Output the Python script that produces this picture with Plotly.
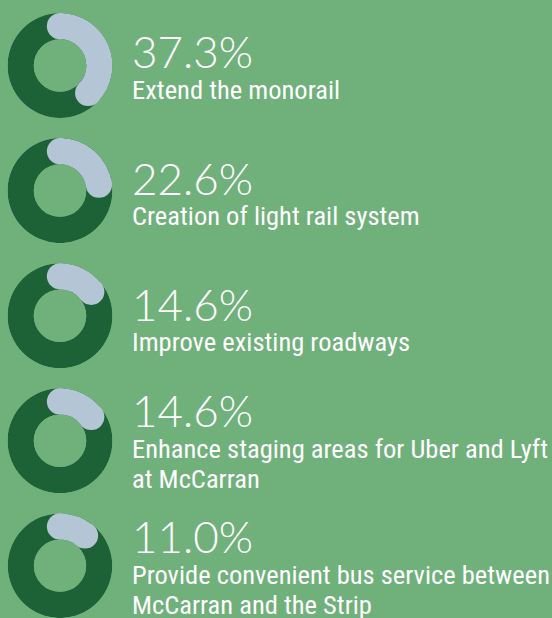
import plotly.graph_objects as go

# Survey shares for each transport improvement option
options = [
    "Extend the monorail",
    "Creation of light rail system",
    "Improve existing roadways",
    "Enhance staging areas for Uber and Lyft<br>at McCarran",
    "Provide convenient bus service between<br>McCarran and the Strip",
]
shares = [37.3, 22.6, 14.6, 14.6, 11.0]

W, H = 552, 618
BG = "#70b07b"
RING = "#1d6236"
ARC = "#b4c6d6"

CX = 60          # donut centre x (px)
CY0 = 65.5       # first donut centre y (px)
STEP = 125.1     # vertical spacing between donuts (px)
R = 52.5         # outer radius (px)
HOLE = 0.5
TEXT_X = 130
BASE0 = 68.3     # baseline of the first percentage (px)
TEXT_STEP = 126.3
PCT_SIZE = 44
LBL_SIZE = 26.5
LINE_GAP = 30
PCT_FONT = "Lato"
LBL_FONT = "Roboto Condensed, Liberation Sans Narrow, DejaVu Sans Condensed, sans-serif"
# distance from glyph-box centre down to the baseline, in em
PCT_MID = 0.387
LBL_MID = 0.341


def clamp(t):
    return min(1.0, max(0.0, t))


def mid_from_baseline(baseline, size, k):
    # annotation boxes are centred on the glyph box, not the baseline
    return baseline - k * size


fig = go.Figure()
annotations = []

for i, (label, v) in enumerate(zip(options, shares)):
    cy = CY0 + i * STEP
    key = "polar" if i == 0 else f"polar{i + 1}"
    sub = key
    # full dark ring
    fig.add_trace(go.Barpolar(r=[1], theta=[180], width=[360], base=0,
                              marker=dict(color=RING, line=dict(width=0)),
                              subplot=sub, showlegend=False, hoverinfo="skip"))
    # highlighted share arc, clockwise from 12 o'clock
    sweep = v / 100 * 360
    fig.add_trace(go.Barpolar(r=[1], theta=[sweep / 2], width=[sweep], base=0,
                              marker=dict(color=ARC, line=dict(width=0)),
                              subplot=sub, showlegend=False,
                              hovertemplate=f"{v:.1f}%<extra></extra>"))
    # rounded caps at both ends of the arc
    fig.add_trace(go.Scatterpolar(r=[0.5, 0.5], theta=[0, sweep], mode="markers",
                                  marker=dict(color=ARC, size=R * (1 - HOLE), line=dict(width=0)),
                                  subplot=sub, showlegend=False, hoverinfo="skip",
                                  cliponaxis=False))
    fig.update_layout(**{key: dict(
        domain=dict(x=[clamp((CX - R) / W), clamp((CX + R) / W)],
                    y=[clamp(1 - (cy + R) / H), clamp(1 - (cy - R) / H)]),
        hole=HOLE,
        bgcolor="rgba(0,0,0,0)",
        bargap=0,
        radialaxis=dict(visible=False, range=[0, 1]),
        angularaxis=dict(visible=False, rotation=90, direction="clockwise"),
    )})

    lines = label.split("<br>")
    base = BASE0 + i * TEXT_STEP - 20 * (len(lines) - 1)
    # percentage figure
    annotations.append(dict(
        x=TEXT_X / W, y=1 - mid_from_baseline(base, PCT_SIZE, PCT_MID) / H,
        xref="paper", yref="paper",
        xanchor="left", yanchor="middle", showarrow=False, align="left",
        text=f"{v:.1f}%",
        font=dict(family=PCT_FONT, size=PCT_SIZE, color="white", weight=300),
    ))
    # option description, one annotation per line
    for j, line in enumerate(lines):
        b = base + LINE_GAP * (j + 1)
        annotations.append(dict(
            x=TEXT_X / W, y=1 - mid_from_baseline(b, LBL_SIZE, LBL_MID) / H,
            xref="paper", yref="paper",
            xanchor="left", yanchor="middle", showarrow=False, align="left",
            text=line,
            font=dict(family=LBL_FONT, size=LBL_SIZE, color="white"),
        ))

fig.update_layout(
    width=W, height=H,
    margin=dict(l=0, r=0, t=0, b=0),
    paper_bgcolor=BG, plot_bgcolor=BG,
    annotations=annotations,
)

fig.write_html("out.html")
